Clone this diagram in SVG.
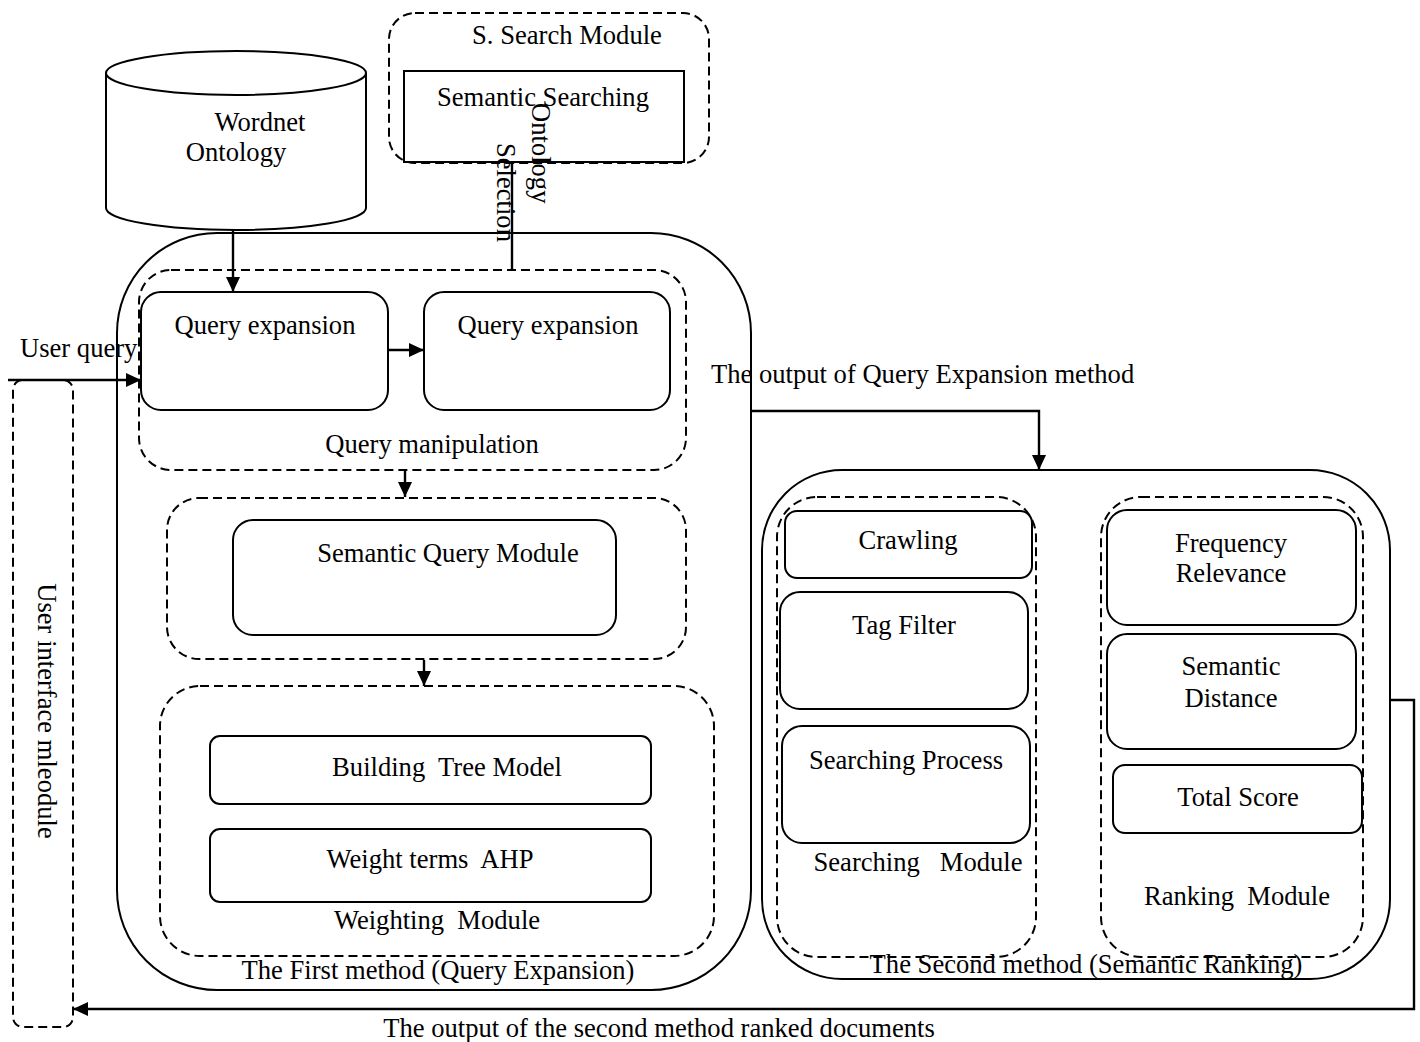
<svg xmlns="http://www.w3.org/2000/svg" width="1420" height="1042" viewBox="0 0 1420 1042">
  <style>
    .solid { fill: none; stroke: #000; stroke-width: 2; }
    .box { fill: #fff; stroke: #000; stroke-width: 2; }
    .dash { fill: none; stroke: #000; stroke-width: 2; stroke-dasharray: 9 5; }
    .wire { fill: none; stroke: #000; stroke-width: 2.4; }
    text { font-family: "Liberation Serif", "Times New Roman", serif; font-size: 26.6px; fill: #000; white-space: pre; }
    .mid { text-anchor: middle; }
  </style>
  <defs>
    <marker id="arrow" markerUnits="userSpaceOnUse" markerWidth="15" markerHeight="14" refX="15" refY="7" orient="auto">
      <path d="M0,0 L15,7 L0,14 z" fill="#000"/>
    </marker>
  </defs>
  <rect width="1420" height="1042" fill="#fff"/>

  <!-- User interface module -->
  <g id="user-interface">
    <rect class="dash" x="13" y="380" width="60" height="647" rx="10"/>
    <text class="mid" transform="translate(38,711) rotate(90)">User interface mleodule</text>
  </g>

  <!-- Wordnet ontology store -->
  <g id="wordnet">
    <path class="box" d="M106,73 L106,208 A130,22 0 0 0 366,208 L366,73"/>
    <ellipse class="box" cx="236" cy="73" rx="130" ry="22"/>
    <text class="mid" x="260" y="131">Wordnet</text>
    <text class="mid" x="236" y="161">Ontology</text>
  </g>

  <!-- Semantic search module -->
  <g id="s-search">
    <rect class="dash" x="389" y="13" width="320" height="150" rx="26"/>
    <text class="mid" x="567" y="44">S. Search Module</text>
    <rect class="solid" x="404" y="71" width="280" height="91"/>
    <text class="mid" x="543" y="106">Semantic Searching</text>
  </g>

  <!-- First method: query expansion -->
  <g id="first-method">
    <rect class="solid" x="117" y="233" width="634" height="757" rx="100"/>
    <text class="mid" x="438" y="979">The First method (Query Expansion)</text>
  </g>

  <g id="query-manipulation">
    <rect class="dash" x="139" y="270" width="547" height="200" rx="32"/>
    <text class="mid" x="432" y="453">Query manipulation</text>
  </g>
  <g id="query-expansion-1">
    <rect class="box" x="141" y="292" width="247" height="118" rx="20"/>
    <text class="mid" x="265" y="334">Query expansion</text>
  </g>
  <g id="query-expansion-2">
    <rect class="box" x="424" y="292" width="246" height="118" rx="20"/>
    <text class="mid" x="548" y="334">Query expansion</text>
  </g>

  <g id="semantic-query">
    <rect class="dash" x="167" y="498" width="519" height="161" rx="32"/>
    <rect class="box" x="233" y="520" width="383" height="115" rx="20"/>
    <text class="mid" x="448" y="562">Semantic Query Module</text>
  </g>

  <g id="weighting">
    <rect class="dash" x="160" y="686" width="554" height="270" rx="40"/>
    <text class="mid" x="437" y="929">Weighting  Module</text>
  </g>
  <g id="building-tree">
    <rect class="box" x="210" y="736" width="441" height="68" rx="10"/>
    <text class="mid" x="447" y="776">Building  Tree Model</text>
  </g>
  <g id="weight-terms">
    <rect class="box" x="210" y="829" width="441" height="73" rx="10"/>
    <text class="mid" x="430" y="868">Weight terms  AHP</text>
  </g>

  <!-- Second method: semantic ranking -->
  <g id="second-method">
    <rect class="solid" x="762" y="470" width="628" height="509" rx="80"/>
  </g>

  <g id="searching-module">
    <rect class="dash" x="777" y="497" width="259" height="460" rx="40"/>
    <text class="mid" x="918" y="871">Searching   Module</text>
  </g>
  <g id="crawling">
    <rect class="box" x="785" y="511" width="247" height="67" rx="12"/>
    <text class="mid" x="908" y="549">Crawling</text>
  </g>
  <g id="tag-filter">
    <rect class="box" x="780" y="592" width="248" height="117" rx="20"/>
    <text class="mid" x="904" y="634">Tag Filter</text>
  </g>
  <g id="searching-process">
    <rect class="box" x="782" y="726" width="248" height="117" rx="20"/>
    <text class="mid" x="906" y="769">Searching Process</text>
  </g>

  <g id="ranking-module">
    <rect class="dash" x="1101" y="497" width="262" height="460" rx="40"/>
    <text class="mid" x="1237" y="905">Ranking  Module</text>
  </g>
  <g id="frequency-relevance">
    <rect class="box" x="1107" y="510" width="249" height="115" rx="20"/>
    <text class="mid" x="1231" y="552">Frequency</text>
    <text class="mid" x="1231" y="582">Relevance</text>
  </g>
  <g id="semantic-distance">
    <rect class="box" x="1107" y="634" width="249" height="115" rx="20"/>
    <text class="mid" x="1231" y="675">Semantic</text>
    <text class="mid" x="1231" y="707">Distance</text>
  </g>
  <g id="total-score">
    <rect class="box" x="1113" y="765" width="249" height="68" rx="12"/>
    <text class="mid" x="1238" y="806">Total Score</text>
  </g>

  <text id="second-method-label" class="mid" x="1086" y="973">The Second method (Semantic Ranking)</text>

  <!-- Connectors -->
  <g id="connectors">
    <path class="wire" d="M233,230 L233,292" marker-end="url(#arrow)"/>
    <path class="wire" d="M512,163 L512,270"/>
    <path class="wire" d="M8,380 L141,380" marker-end="url(#arrow)"/>
    <path class="wire" d="M388,350 L424,350" marker-end="url(#arrow)"/>
    <path class="wire" d="M405,471 L405,497" marker-end="url(#arrow)"/>
    <path class="wire" d="M424,660 L424,686" marker-end="url(#arrow)"/>
    <path class="wire" d="M751,411 L1039,411 L1039,470" marker-end="url(#arrow)"/>
    <path class="wire" d="M1390,700 L1414,700 L1414,1009 L73,1009" marker-end="url(#arrow)"/>
  </g>

  <!-- Connector labels -->
  <g id="labels">
    <text x="20" y="357">User query</text>
    <text x="711" y="383">The output of Query Expansion method</text>
    <text class="mid" x="659" y="1037">The output of the second method ranked documents</text>
    <text transform="translate(532,103) rotate(90)">Ontology</text>
    <text transform="translate(497,143) rotate(90)">Selection</text>
  </g>
</svg>
